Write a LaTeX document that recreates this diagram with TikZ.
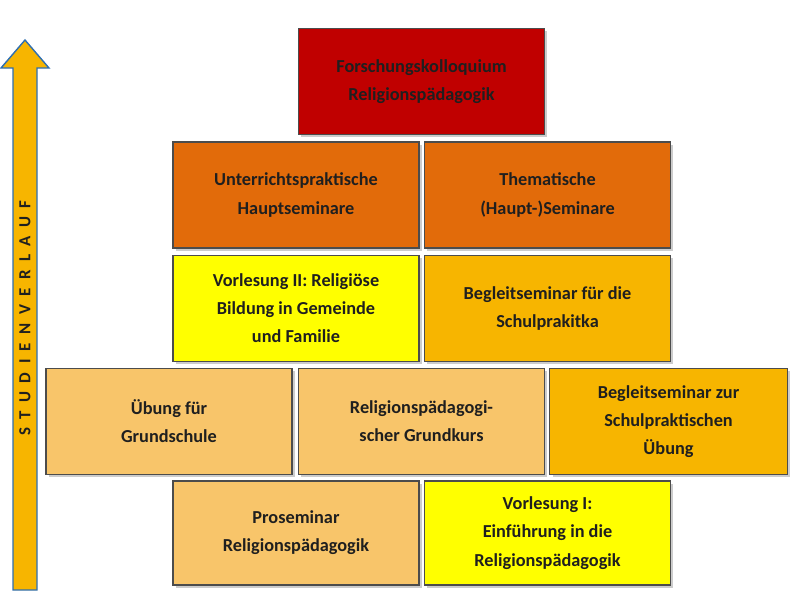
\documentclass[tikz,border=0pt]{standalone}
\usepackage{fontspec}
\setmainfont{Carlito}
\usetikzlibrary{shadows}
\definecolor{cred}{HTML}{C00000}
\definecolor{corange}{HTML}{E26B0A}
\definecolor{cyel}{HTML}{FFFF00}
\definecolor{cgold}{HTML}{F7B500}
\definecolor{clight}{HTML}{F8C56A}
\definecolor{ctext}{HTML}{1F1F1F}
\definecolor{cblue}{HTML}{2F6FB0}
\tikzset{
 box/.style={draw=black!70, line width=0.8pt, minimum width=6.15cm, minimum height=2.65cm,
   align=center, font=\fontsize{13}{20}\selectfont\bfseries, text=ctext,
   drop shadow={shadow xshift=2pt,shadow yshift=-2pt,opacity=0.4}, inner sep=2pt},
}
\newcommand{\pxbox}[6]{% name, x1,y1,x2,y2, color, text via #6? 
}
\begin{document}
\begin{tikzpicture}[x=0.025cm,y=-0.025cm]
\useasboundingbox (0,0) rectangle (800,600);
\node[box,fill=cred] (a) at (421.5,81.5) {Forschungskolloquium\\Religionspädagogik};
\node[box,fill=corange] (b1) at (296,195) {Unterrichtspraktische\\Hauptseminare};
\node[box,fill=corange] (b2) at (547.5,195) {Thematische\\(Haupt-)Seminare};
\node[box,fill=cyel] (c1) at (296,308.5) {Vorlesung II: Religiöse\\Bildung in Gemeinde\\und Familie};
\node[box,fill=cgold] (c2) at (547.5,308.5) {Begleitseminar für die\\Schulprakitka};
\node[box,fill=clight] (d1) at (169,421.5) {Übung für\\Grundschule};
\node[box,fill=clight] (d2) at (421.5,421.5) {Religionspädagogi-\\scher Grundkurs};
\node[box,fill=cgold,minimum width=5.93cm] (d3) at (668.5,421.5) {Begleitseminar zur\\Schulpraktischen\\Übung};
\node[box,fill=clight,minimum height=2.6cm] (e1) at (296,533) {Proseminar\\Religionspädagogik};
\node[box,fill=cyel,minimum height=2.6cm] (e2) at (547.5,533) {Vorlesung I:\\Einführung in die\\Religionspädagogik};
\draw[draw=cblue,fill=cgold,line width=1pt] (13,590) -- (13,68) -- (1,68) -- (25,40) -- (49,68) -- (37,68) -- (37,590) -- cycle;
\node[rotate=90,font=\fontsize{12}{12}\selectfont\bfseries,text=ctext] (t) at (25,318)
 {S\hspace{0.5em}T\hspace{0.5em}U\hspace{0.5em}D\hspace{0.5em}I\hspace{0.5em}E\hspace{0.5em}N\hspace{0.5em}V\hspace{0.5em}E\hspace{0.5em}R\hspace{0.5em}L\hspace{0.5em}A\hspace{0.5em}U\hspace{0.5em}F};
\end{tikzpicture}
\end{document}
